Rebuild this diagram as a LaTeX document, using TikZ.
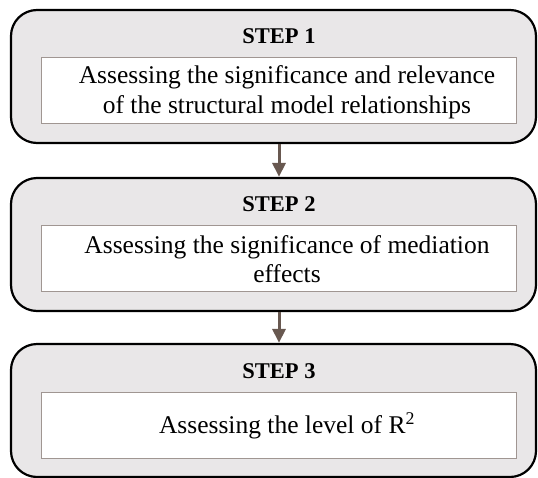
\documentclass[tikz,border=0pt]{standalone}
\usepackage{fontspec}
\setmainfont{Liberation Serif}
\usetikzlibrary{arrows.meta}
\definecolor{panelgray}{RGB}{233,231,232}
\definecolor{innerrule}{RGB}{160,150,146}
\definecolor{arrowbrown}{RGB}{104,88,80}
\tikzset{
  stagebox/.style={draw=black, line width=2.2pt, fill=panelgray, rounded corners=26pt,
    minimum width=525pt, minimum height=133pt, inner sep=0pt},
  taskbox/.style={draw=innerrule, line width=0.9pt, fill=white,
    minimum width=475pt, minimum height=66pt, inner sep=0pt},
  steplabel/.style={font=\fontsize{22.5}{26}\selectfont\bfseries, inner sep=0pt},
  tasktext/.style={font=\fontsize{25.5}{29.5}\selectfont, align=center, inner sep=0pt},
  flow/.style={draw=arrowbrown, line width=3pt,
    -{Triangle[length=14pt,width=13pt]}}
}
\begin{document}
\begin{tikzpicture}[x=1pt,y=-1pt]
\useasboundingbox (0,0) rectangle (538,477);
% stage panels
\node[stagebox] (s1) at (273.5,76.5) {};
\node[stagebox] (s2) at (273.5,244.5) {};
\node[stagebox] (s3) at (273.5,410.5) {};
% inner task boxes
\node[taskbox] (b1) at (278.5,90) {};
\node[taskbox] (b2) at (278.5,258) {};
\node[taskbox] (b3) at (278.5,425) {};
% headings
\node[steplabel] (h1) at (279,36) {STEP 1};
\node[steplabel] (h2) at (279,204) {STEP 2};
\node[steplabel] (h3) at (279,371) {STEP 3};
% task descriptions
\node[tasktext] (t1) at (287,92) {Assessing the significance and relevance\\of the structural model relationships};
\node[tasktext] (t2) at (287,259) {Assessing the significance of mediation\\effects};
\node[tasktext] (t3) at (287,426) {Assessing the level of R\textsuperscript{2}};
% connectors
\draw[flow] ([xshift=5.5pt]s1.south) -- ([xshift=5.5pt]s2.north);
\draw[flow] ([xshift=5.5pt]s2.south) -- ([xshift=5.5pt]s3.north);
\end{tikzpicture}
\end{document}
